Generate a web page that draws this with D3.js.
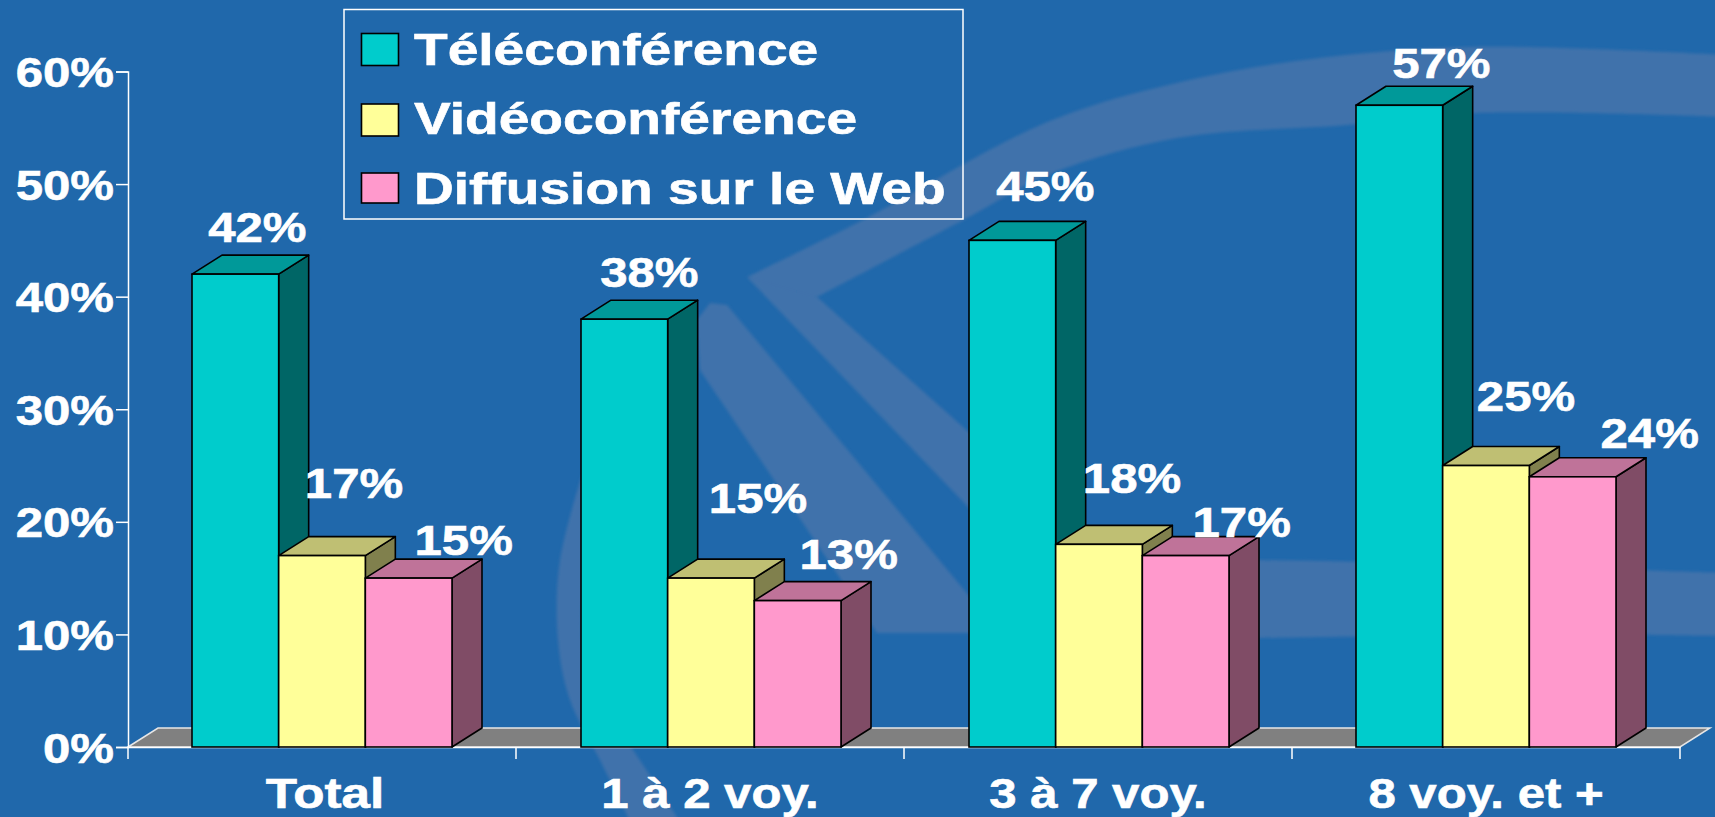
<!DOCTYPE html>
<html lang="fr">
<head>
<meta charset="utf-8">
<script src="https://cdn.jsdelivr.net/npm/d3@7"></script>
<style>
html,body{margin:0;padding:0;background:#2068AB;overflow:hidden}
svg{display:block}
text{font-family:"Liberation Sans",Arial,sans-serif;font-weight:700;fill:#fff;stroke:#fff;stroke-width:0.6px}
</style>
</head>
<body>
<svg id="chart" width="1715" height="817"></svg>
<script>
const categories = ["Total", "1 à 2 voy.", "3 à 7 voy.", "8 voy. et +"];
const seriesNames = ["Téléconférence", "Vidéoconférence", "Diffusion sur le Web"];
const teleconference = [42, 38, 45, 57];
const videoconference = [17, 15, 18, 25];
const webcast = [15, 13, 17, 24];
const yTicks = [0, 10, 20, 30, 40, 50, 60];

// layout and style, kept apart from the data
const seriesValues = [teleconference, videoconference, webcast];
const frontColors = ["#00CCCC", "#FFFF99", "#FF99CC"];
const topColors = ["#009999", "#BFBF73", "#BF7399"];
const sideColors = ["#006666", "#80804D", "#804C66"];
const labelShiftX = [[21, 25, 33, 41], [31, 47, 33, 39], [54, 51, 56, 76]];
const labelShiftY = [[-47, -47, -54, -42], [-73, -80, -66, -70], [-38, -47, -34, -44]];
const groupShift = [-1, 0, 0, -1];
const depthX = 30, depthY = 19, stretch = 1.17;

const svg = d3.select("#chart");
const y = d3.scaleLinear().domain([0, 60]).range([747, 71.5]);
const x0 = d3.scaleBand().domain(categories).range([128, 1680]);
const x1 = d3.scaleBand().domain(d3.range(3)).range([65, 325]);

// backdrop
svg.append("rect").attr("width", 1715).attr("height", 817).attr("fill", "#2068AB");
const defs = svg.append("defs");
defs.append("filter").attr("id", "soft").append("feGaussianBlur").attr("stdDeviation", 1.6);
const wm = svg.append("g").attr("fill", "#4172AB").attr("stroke", "none").attr("filter", "url(#soft)");
const smooth = d3.line().curve(d3.curveCatmullRom);
const edgePath = (a, b) => smooth(a) + "L" + smooth(b).slice(1) + "Z";
wm.append("path").attr("d", edgePath(
  [[747,277],[863,220],[1050,121],[1177,83],[1304,60],[1474,47],[1725,55]],
  [[1725,117],[1474,113],[1347,125],[1177,138],[1050,174],[967,218],[817,297]]));
wm.append("path").attr("d", d3.line()([[747,277],[817,297],[1000,460],[1000,540]]) + "Z");
wm.append("path").attr("d", d3.line()([[697,320],[710,303],[727,305],[1000,633],[877,633],[700,370]]) + "Z");
wm.append("path").attr("d", edgePath(
  [[590,450],[560,560],[558,640],[570,700],[600,760],[632,825]],
  [[682,825],[633,750],[590,690],[582,640],[590,470]]));
wm.append("path").attr("d", edgePath(
  [[1000,560],[1256,560],[1500,566],[1725,573]],
  [[1725,636],[1500,634],[1256,638],[1000,638]]));

// floor
const floorLeft = x0.range()[0], floorRight = x0.range()[1], base = y(0);
svg.append("path")
  .attr("d", d3.line()([[floorLeft, base], [floorLeft + depthX, base - depthY], [floorRight + depthX, base - depthY], [floorRight, base]]) + "Z")
  .attr("fill", "#808080").attr("stroke", "#E6E6E6").attr("stroke-width", 1.5);

// axes
const yAxis = d3.axisLeft(y).tickValues(yTicks).tickSize(12).tickFormat(d => d + "%");
const gy = svg.append("g").attr("transform", "translate(128,0)").call(yAxis);
const xAxis = d3.axisBottom(x0).tickSize(0).tickFormat("");
const gx = svg.append("g").attr("transform", `translate(0,${base})`).call(xAxis);
gx.selectAll(".tick").remove();
gy.selectAll("path,line").attr("stroke", "#fff").attr("stroke-width", 1.5);
gx.selectAll("path").attr("stroke", "#fff").attr("stroke-width", 1.5);
gy.selectAll("text").remove();
gy.selectAll(".tick").append("text")
  .attr("text-anchor", "end").attr("font-size", 42)
  .attr("transform", `translate(-14,15) scale(${stretch},1)`)
  .text(d => d + "%");

// category boundary ticks and names
const boundaries = categories.map(c => x0(c)).concat(floorRight);
svg.selectAll(".xtick").data(boundaries).join("line").attr("class", "xtick")
  .attr("x1", d => d).attr("x2", d => d).attr("y1", base).attr("y2", base + 12)
  .attr("stroke", "#fff").attr("stroke-width", 1.5);
svg.selectAll(".xname").data(categories).join("text").attr("class", "xname")
  .attr("text-anchor", "middle").attr("font-size", 42)
  .attr("transform", (d, i) => `translate(${x0(d) + x0.bandwidth() / 2 + (i === 0 ? 3 : 0)},808) scale(${i === 0 ? 1.22 : stretch},1)`)
  .text(d => d);

// bars
categories.forEach((cat, ci) => {
  const g = svg.append("g");
  seriesValues.forEach((vals, si) => {
    const l = x0(cat) + x1(si) + groupShift[ci], r = l + x1.bandwidth(), t = y(vals[ci]);
    g.append("path").attr("fill", sideColors[si]).attr("stroke", "#000").attr("stroke-width", 1.6).attr("stroke-linejoin", "round")
      .attr("d", d3.line()([[r, t], [r + depthX, t - depthY], [r + depthX, base - depthY], [r, base]]) + "Z");
    g.append("path").attr("fill", topColors[si]).attr("stroke", "#000").attr("stroke-width", 1.6).attr("stroke-linejoin", "round")
      .attr("d", d3.line()([[l, t], [l + depthX, t - depthY], [r + depthX, t - depthY], [r, t]]) + "Z");
    g.append("rect").attr("x", l).attr("y", t).attr("width", x1.bandwidth()).attr("height", base - t)
      .attr("fill", frontColors[si]).attr("stroke", "#000").attr("stroke-width", 1.6);
  });
});

// value labels on top of everything
categories.forEach((cat, ci) => {
  seriesValues.forEach((vals, si) => {
    const cx = x0(cat) + x1(si) + x1.bandwidth() / 2 + labelShiftX[si][ci];
    const cy = y(vals[ci]) + labelShiftY[si][ci];
    svg.append("text").attr("text-anchor", "middle").attr("font-size", 42)
      .attr("transform", `translate(${cx},${cy + 15}) scale(${stretch},1)`)
      .text(vals[ci] + "%");
  });
});

// legend
const legend = svg.append("g");
legend.append("rect").attr("x", 344).attr("y", 9.5).attr("width", 619).attr("height", 209.5)
  .attr("fill", "none").attr("stroke", "#fff").attr("stroke-width", 1.5);
const swatchY = d3.scaleOrdinal().domain(seriesNames).range([33.5, 104, 173]);
const swatchH = d3.scaleOrdinal().domain(seriesNames).range([32, 32, 30]);
const textY = d3.scaleOrdinal().domain(seriesNames).range([65, 134, 204]);
seriesNames.forEach((name, i) => {
  legend.append("rect").attr("x", 361.5).attr("y", swatchY(name)).attr("width", 37).attr("height", swatchH(name))
    .attr("fill", frontColors[i]).attr("stroke", "#000").attr("stroke-width", 1.6);
  legend.append("text").attr("font-size", 45)
    .attr("transform", `translate(414,${textY(name)}) scale(1.225,1)`)
    .text(name);
});
</script>
</body>
</html>
